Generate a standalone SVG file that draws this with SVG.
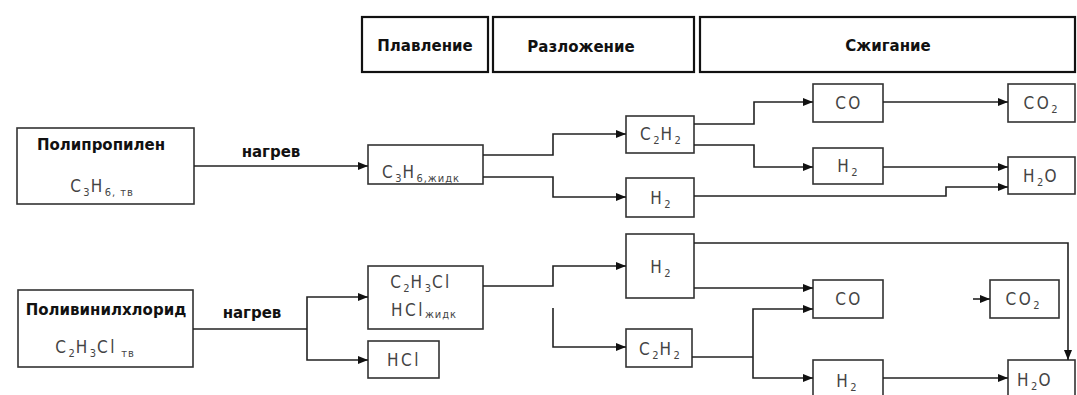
<svg xmlns="http://www.w3.org/2000/svg" width="1077" height="395" viewBox="0 0 1077 395">
<defs>
<style>
.hdr{fill:#fff;stroke:#111;stroke-width:2.2}
.box{fill:#fff;stroke:#333;stroke-width:1.6}
.lbl{font-family:"DejaVu Sans","Liberation Sans",sans-serif;font-weight:bold;font-size:15px;fill:#111;text-anchor:middle}
.hl{font-family:"DejaVu Sans","Liberation Sans",sans-serif;font-weight:bold;font-size:15px;fill:#111;text-anchor:middle}
.f{font-family:"Liberation Sans Narrow","DejaVu Sans Condensed",sans-serif;font-size:17px;fill:#444;text-anchor:middle;letter-spacing:2.5px}
.s{font-size:11px;letter-spacing:1px}
.c{fill:none;stroke:#222;stroke-width:1.6}
</style>
<marker id="ah" viewBox="0 0 10 8" refX="10" refY="4" markerWidth="10" markerHeight="8" markerUnits="userSpaceOnUse" orient="auto">
<path d="M0,0 L10,4 L0,8 Z" fill="#111"/>
</marker>
</defs>

<g id="header-melting"><rect class="hdr" x="362" y="17" width="126" height="55"/><text class="hl" x="425" y="51">Плавление</text></g>
<g id="header-decomposition"><rect class="hdr" x="493" y="17" width="201" height="55"/><text class="hl" x="581" y="52">Разложение</text></g>
<g id="header-combustion"><rect class="hdr" x="700" y="17" width="375" height="55"/><text class="hl" x="888" y="51">Сжигание</text></g>

<g id="polypropylene"><rect class="box" x="17" y="128" width="177" height="76"/><text class="lbl" x="101" y="150">Полипропилен</text><text class="f" x="102" y="192">C<tspan class="s" dy="4">3</tspan><tspan dy="-4">H</tspan><tspan class="s" dy="4">6, тв</tspan></text></g>
<g id="c3h6-liquid"><rect class="box" x="368" y="145" width="115" height="39"/><text class="f" x="421" y="178">C<tspan class="s" dy="4">3</tspan><tspan dy="-4">H</tspan><tspan class="s" dy="4">6,жидк</tspan></text></g>
<g id="c2h2-top"><rect class="box" x="626" y="116" width="68" height="37"/><text class="f" x="661" y="140">C<tspan class="s" dy="4">2</tspan><tspan dy="-4">H</tspan><tspan class="s" dy="4">2</tspan></text></g>
<g id="h2-top-decomp"><rect class="box" x="626" y="178" width="68" height="39"/><text class="f" x="661" y="204">H<tspan class="s" dy="4">2</tspan></text></g>
<g id="co-top"><rect class="box" x="813" y="84" width="70" height="38"/><text class="f" x="849" y="109">CO</text></g>
<g id="h2-top-comb"><rect class="box" x="813" y="148" width="70" height="36"/><text class="f" x="848" y="172">H<tspan class="s" dy="4">2</tspan></text></g>
<g id="co2-top"><rect class="box" x="1008" y="84" width="67" height="38"/><text class="f" x="1041" y="109">CO<tspan class="s" dy="4">2</tspan></text></g>
<g id="h2o-top"><rect class="box" x="1008" y="157" width="67" height="37"/><text class="f" x="1041" y="182">H<tspan class="s" dy="4">2</tspan><tspan dy="-4">O</tspan></text></g>

<g id="pvc"><rect class="box" x="18" y="290" width="175" height="77"/><text class="lbl" x="106" y="315">Поливинилхлорид</text><text class="f" x="95" y="353">C<tspan class="s" dy="4">2</tspan><tspan dy="-4">H</tspan><tspan class="s" dy="4">3</tspan><tspan dy="-4">Cl</tspan><tspan class="s" dy="4"> тв</tspan></text></g>
<g id="c2h3cl-liquid"><rect class="box" x="368" y="266" width="115" height="63"/><text class="f" x="421" y="288">C<tspan class="s" dy="4">2</tspan><tspan dy="-4">H</tspan><tspan class="s" dy="4">3</tspan><tspan dy="-4">Cl</tspan></text><text class="f" x="424" y="316">HCl<tspan class="s" dy="2">жидк</tspan></text></g>
<g id="hcl"><rect class="box" x="368" y="341" width="71" height="37"/><text class="f" x="404" y="366">HCl</text></g>
<g id="h2-bottom-decomp"><rect class="box" x="626" y="234" width="68" height="64"/><text class="f" x="661" y="273">H<tspan class="s" dy="4">2</tspan></text></g>
<g id="c2h2-bottom"><rect class="box" x="626" y="329" width="66" height="38"/><text class="f" x="660" y="355">C<tspan class="s" dy="4">2</tspan><tspan dy="-4">H</tspan><tspan class="s" dy="4">2</tspan></text></g>
<g id="co-bottom"><rect class="box" x="813" y="280" width="70" height="38"/><text class="f" x="849" y="305">CO</text></g>
<g id="co2-bottom"><rect class="box" x="990" y="280" width="69" height="38"/><text class="f" x="1023" y="305">CO<tspan class="s" dy="4">2</tspan></text></g>
<g id="h2-bottom-comb"><rect class="box" x="813" y="360" width="70" height="40"/><text class="f" x="847" y="387">H<tspan class="s" dy="4">2</tspan></text></g>
<g id="h2o-bottom"><rect class="box" x="1008" y="360" width="67" height="40"/><text class="f" x="1035" y="386">H<tspan class="s" dy="4">2</tspan><tspan dy="-4">O</tspan></text></g>

<g id="connectors">
<path class="c" d="M194,166 H368" marker-end="url(#ah)"/>
<text class="lbl" x="271" y="157">нагрев</text>
<path class="c" d="M483,155 H553 V134 H626" marker-end="url(#ah)"/>
<path class="c" d="M483,177 H553 V197 H626" marker-end="url(#ah)"/>
<path class="c" d="M694,124 H754 V102 H813" marker-end="url(#ah)"/>
<path class="c" d="M694,145 H754 V167 H813" marker-end="url(#ah)"/>
<path class="c" d="M883,102 H1008" marker-end="url(#ah)"/>
<path class="c" d="M883,167 H1008" marker-end="url(#ah)"/>
<path class="c" d="M694,196 H946 V187 H1008" marker-end="url(#ah)"/>

<path class="c" d="M193,329 H307"/>
<text class="lbl" x="252" y="318">нагрев</text>
<path class="c" d="M307,329 V297 H368" marker-end="url(#ah)"/>
<path class="c" d="M307,329 V360 H368" marker-end="url(#ah)"/>
<path class="c" d="M483,286 H553 V266 H626" marker-end="url(#ah)"/>
<path class="c" d="M553,308 V347 H626" marker-end="url(#ah)"/>
<path class="c" d="M694,243 H1068 V360" marker-end="url(#ah)"/>
<path class="c" d="M694,288 H813" marker-end="url(#ah)"/>
<path class="c" d="M692,357 H753"/>
<path class="c" d="M753,357 V309 H813" marker-end="url(#ah)"/>
<path class="c" d="M753,357 V378 H813" marker-end="url(#ah)"/>
<path class="c" d="M973,299 H990" marker-end="url(#ah)"/>
<path class="c" d="M883,378 H1008" marker-end="url(#ah)"/>
</g>
</svg>
